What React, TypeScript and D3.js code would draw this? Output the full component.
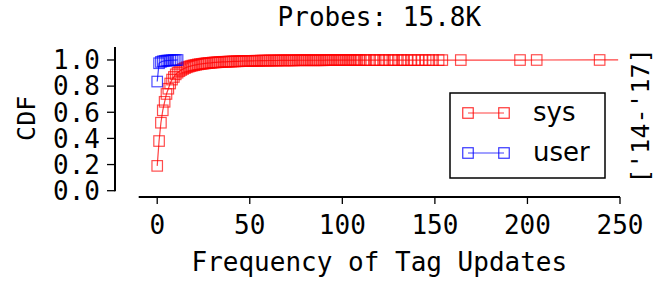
import React from "react";
import * as d3 from "d3";

const W = 663;
const H = 281;

const titleText = "Probes: 15.8K";
const xLabel = "Frequency of Tag Updates";
const yLabel = "CDF";
const sideLabel = "['14-'17]";
const xTicks = [0, 50, 100, 150, 200, 250];
const yTicks = [0, 0.2, 0.4, 0.6, 0.8, 1.0];
const seriesNames = ["sys", "user"];

const sysX = [
  0, 1, 2, 3, 4, 5, 6, 7, 8, 9, 10, 11, 12, 13, 14, 15, 16, 17, 18, 19,
  20, 21, 22, 23, 24, 25, 26, 27, 28, 29, 30, 31, 32, 33, 34, 35, 36, 37, 38, 39,
  40, 41, 42, 43, 44, 45, 46, 47, 48, 49, 50, 51, 52, 53, 54, 55, 56, 57, 58, 59,
  60, 61, 62, 63, 64, 65, 66, 67, 68, 69, 70, 71, 72, 73, 74, 75, 76, 77, 78, 79,
  80, 81, 82, 83, 84, 85, 86, 87, 88, 89, 90, 91, 92, 93, 94, 95, 96, 97, 98, 99,
  100, 101, 102, 103, 104, 105, 106, 107, 108, 109, 110, 112, 113, 115, 117, 118,
  120, 122, 123, 125, 127, 128, 130, 132, 133, 135, 137, 139, 141, 143, 145, 147,
  149, 152, 154, 164, 196, 205, 239,
];
const sysY = [
  0.19, 0.38, 0.52, 0.615, 0.68, 0.74, 0.78, 0.82, 0.85, 0.87, 0.89, 0.903, 0.914, 0.923, 0.931, 0.938, 0.944, 0.949, 0.953, 0.957,
  0.96, 0.963, 0.966, 0.968, 0.97, 0.972, 0.974, 0.976, 0.977, 0.978, 0.98, 0.981, 0.982, 0.983, 0.984, 0.985, 0.986, 0.986, 0.987, 0.988,
  0.988, 0.989, 0.989, 0.99, 0.99, 0.991, 0.991, 0.992, 0.992, 0.992, 0.993, 0.993, 0.993, 0.994, 0.994, 0.994, 0.995, 0.995, 0.995, 0.995,
  0.996, 0.996, 0.996, 0.996, 0.996, 0.996, 0.997, 0.997, 0.997, 0.997, 0.997, 0.997, 0.997, 0.997, 0.997, 0.998, 0.998, 0.998, 0.998, 0.998,
  0.998, 0.998, 0.998, 0.998, 0.998, 0.998, 0.998, 0.998, 0.998, 0.998, 0.998, 0.999, 0.999, 0.999, 0.999, 0.999, 0.999, 0.999, 0.999, 0.999,
  0.999, 0.999, 0.999, 0.999, 0.999, 0.999, 0.999, 0.999, 0.999, 0.999, 0.999, 0.999, 0.999, 0.999, 0.999, 0.999,
  0.999, 0.999, 0.999, 0.999, 0.999, 0.999, 0.999, 0.999, 0.999, 0.999, 0.999, 0.999, 0.999, 0.999, 0.999, 0.999,
  0.999, 0.999, 0.999, 0.9993, 0.9996, 0.9998, 1.0,
];
const sysLineEnd = [249, 1.0];

const userX = [0, 1, 2, 3, 4, 5, 6, 7, 8, 9, 10, 11];
const userY = [0.835, 0.975, 0.985, 0.99, 0.993, 0.995, 0.996, 0.997, 0.998, 0.999, 0.9995, 1.0];

const RED = "#ff0000";
const BLUE = "#0000ff";
const MONO = "DejaVu Sans Mono";
const SANS = "DejaVu Sans";

export default function App() {
  const x = d3.scaleLinear().domain([-10, 250]).range([138.7, 620]);
  const y = d3.scaleLinear().domain([0, 1.1]).range([190.7, 46.9]);
  const line = d3
    .line<[number, number]>()
    .x((d) => x(d[0]))
    .y((d) => y(d[1]));

  const sysPts: [number, number][] = sysX.map((v, i) => [v, sysY[i]]);
  const userPts: [number, number][] = userX.map((v, i) => [v, userY[i]]);
  const sysLine = [...sysPts, sysLineEnd as [number, number]];
  const M = 10.5;

  const xAxisY = 197;
  const yAxisX = 115;

  const legX = 450;
  const legY = 93;
  const legW = 155;
  const legH = 85;
  const legRows = [
    { name: seriesNames[0], color: RED, cy: 113 },
    { name: seriesNames[1], color: BLUE, cy: 153 },
  ];

  return (
    <svg width={W} height={H} style={{ position: "absolute", left: 0, top: 0, background: "#fff" }}>
      <rect x={0} y={0} width={W} height={H} fill="#fff" />
      {/* title */}
      <text x={x(120)} y={26} textAnchor="middle" fontFamily={MONO} fontSize={26} fill="#000">
        {titleText}
      </text>
      {/* y axis */}
      <line x1={yAxisX} x2={yAxisX} y1={y(1.1)} y2={y(0) + 0.5} stroke="#000" strokeWidth={2} />
      {yTicks.map((t) => (
        <g key={t}>
          <line x1={yAxisX - 8} x2={yAxisX} y1={y(t)} y2={y(t)} stroke="#000" strokeWidth={1.3} />
          <text x={yAxisX - 15} y={y(t)} dy="0.36em" textAnchor="end" fontFamily={MONO} fontSize={26} fill="#000">
            {t.toFixed(1)}
          </text>
        </g>
      ))}
      <text
        transform={`translate(26,${y(0.5) - 7}) rotate(-90)`}
        textAnchor="middle"
        dy="0.36em"
        fontFamily={MONO}
        fontSize={25}
        fill="#000"
      >
        {yLabel}
      </text>
      {/* x axis */}
      <line x1={x(-10)} x2={x(250)} y1={xAxisY} y2={xAxisY} stroke="#000" strokeWidth={2} />
      {xTicks.map((t) => (
        <g key={t}>
          <line x1={x(t)} x2={x(t)} y1={xAxisY} y2={xAxisY + 7} stroke="#000" strokeWidth={1.3} />
          <text x={x(t)} y={234} textAnchor="middle" fontFamily={MONO} fontSize={26} fill="#000">
            {t}
          </text>
        </g>
      ))}
      <text x={x(120)} y={271} textAnchor="middle" fontFamily={MONO} fontSize={26} fill="#000">
        {xLabel}
      </text>
      {/* side label */}
      <text
        transform={`translate(640,116) rotate(-90)`}
        textAnchor="middle"
        dy="0.36em"
        fontFamily={MONO}
        fontSize={25}
        fill="#000"
      >
        {sideLabel}
      </text>
      {/* sys series */}
      <path d={line(sysLine) || ""} fill="none" stroke={RED} strokeOpacity={0.75} strokeWidth={1.2} />
      {sysPts.map((p, i) => (
        <rect
          key={"s" + i}
          x={x(p[0]) - M / 2}
          y={y(p[1]) - M / 2}
          width={M}
          height={M}
          fill="none"
          stroke={RED}
          strokeOpacity={0.7}
          strokeWidth={1.2}
        />
      ))}
      {/* user series */}
      <path d={line(userPts) || ""} fill="none" stroke={BLUE} strokeOpacity={0.75} strokeWidth={1.2} />
      {userPts.map((p, i) => (
        <rect
          key={"u" + i}
          x={x(p[0]) - M / 2}
          y={y(p[1]) - M / 2}
          width={M}
          height={M}
          fill="none"
          stroke={BLUE}
          strokeOpacity={0.7}
          strokeWidth={1.2}
        />
      ))}
      {/* legend */}
      <rect x={legX} y={legY} width={legW} height={legH} fill="#fff" stroke="#000" strokeWidth={1.5} />
      {legRows.map((r) => (
        <g key={r.name}>
          <line x1={468} x2={504} y1={r.cy} y2={r.cy} stroke={r.color} strokeOpacity={0.75} strokeWidth={1.2} />
          {[468, 504].map((cx) => (
            <rect
              key={cx}
              x={cx - M / 2}
              y={r.cy - M / 2}
              width={M}
              height={M}
              fill="none"
              stroke={r.color}
              strokeOpacity={0.8}
              strokeWidth={1.2}
            />
          ))}
          <text x={533} y={r.cy} dy="0.3em" fontFamily={SANS} fontSize={26} fill="#000">
            {r.name}
          </text>
        </g>
      ))}
    </svg>
  );
}
